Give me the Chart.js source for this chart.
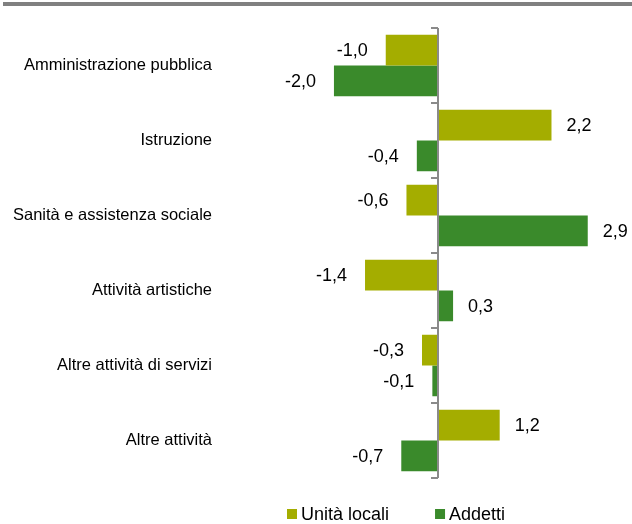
<!DOCTYPE html>
<html lang="it">
<head>
    <meta charset="UTF-8">
    <title>Unità locali e addetti per settore</title>
    <style>
        body {
            margin: 0;
            background-color: #ffffff;
            font-family: "Liberation Sans", Arial, sans-serif;
        }
        #wrap {
            position: relative;
            width: 632px;
            height: 524px;
        }
    </style>
</head>
<body>
    <div id="wrap"><canvas id="sectorChart"></canvas></div>

    <script src="https://cdn.jsdelivr.net/npm/chart.js"></script>
    <script>
        const categories = [
            'Amministrazione pubblica',
            'Istruzione',
            'Sanità e assistenza sociale',
            'Attività artistiche',
            'Altre attività di servizi',
            'Altre attività'
        ];
        const unitaLocali = [-1.0, 2.2, -0.6, -1.4, -0.3, 1.2];
        const addetti = [-2.0, -0.4, 2.9, 0.3, -0.1, -0.7];

        const OLIVE = '#a4ad00';
        const GREEN = '#3a8a2b';
        const AXIS_GREY = '#8a8a8a';
        const FONT = '"Liberation Sans", Arial, sans-serif';

        const fmt = v => v.toFixed(1).replace('.', ',');

        // zero axis with small ticks, value labels, grey top rule and legend
        const decorations = {
            id: 'decorations',
            beforeDraw(chart) {
                const ctx = chart.ctx;
                ctx.save();
                ctx.fillStyle = '#808080';
                ctx.fillRect(3, 2, 629, 4);
                ctx.restore();
            },
            afterDatasetsDraw(chart) {
                const ctx = chart.ctx;
                const x0 = Math.round(chart.scales.x.getPixelForValue(0));
                const area = chart.chartArea;
                const n = categories.length;
                const step = (area.bottom - area.top) / n;
                ctx.save();
                ctx.strokeStyle = AXIS_GREY;
                ctx.lineWidth = 2;
                ctx.beginPath();
                ctx.moveTo(x0, area.top);
                ctx.lineTo(x0, area.bottom);
                for (let i = 0; i <= n; i++) {
                    const y = Math.round(area.top + i * step);
                    ctx.moveTo(x0 - 7, y);
                    ctx.lineTo(x0, y);
                }
                ctx.stroke();

                ctx.fillStyle = '#000';
                ctx.font = '18px ' + FONT;
                ctx.textBaseline = 'middle';
                chart.data.datasets.forEach((ds, di) => {
                    chart.getDatasetMeta(di).data.forEach((bar, i) => {
                        const v = ds.data[i];
                        if (v < 0) {
                            ctx.textAlign = 'right';
                            ctx.fillText(fmt(v), bar.x - 18, bar.y + 1);
                        } else {
                            ctx.textAlign = 'left';
                            ctx.fillText(fmt(v), bar.x + 15, bar.y + 1);
                        }
                    });
                });

                // legend
                const legendY = 514;
                let lx = 287;
                ctx.font = '18px ' + FONT;
                ctx.textAlign = 'left';
                chart.data.datasets.forEach(ds => {
                    ctx.fillStyle = ds.backgroundColor;
                    ctx.fillRect(lx, legendY - 5, 10, 10);
                    ctx.fillStyle = '#000';
                    ctx.fillText(ds.label, lx + 14, legendY + 1);
                    lx += 14 + ctx.measureText(ds.label).width + 46;
                });
                ctx.restore();
            }
        };

        new Chart(document.getElementById('sectorChart'), {
            type: 'bar',
            data: {
                labels: categories,
                datasets: [
                    { label: 'Unità locali', data: unitaLocali, backgroundColor: OLIVE },
                    { label: 'Addetti', data: addetti, backgroundColor: GREEN }
                ]
            },
            options: {
                indexAxis: 'y',
                responsive: true,
                maintainAspectRatio: false,
                animation: false,
                categoryPercentage: 0.82,
                barPercentage: 1.0,
                layout: { padding: { top: 28, left: 0, right: 8, bottom: 46 } },
                scales: {
                    x: {
                        display: false,
                        min: -4.2,
                        max: 3.6
                    },
                    y: {
                        grid: { display: false },
                        border: { display: false },
                        ticks: {
                            color: '#000',
                            padding: 0,
                            font: { family: FONT, size: 16.5 }
                        },
                        afterFit(scale) { scale.width = 220; }
                    }
                },
                plugins: {
                    legend: { display: false },
                    tooltip: { enabled: false }
                }
            },
            plugins: [decorations]
        });
    </script>
</body>
</html>
